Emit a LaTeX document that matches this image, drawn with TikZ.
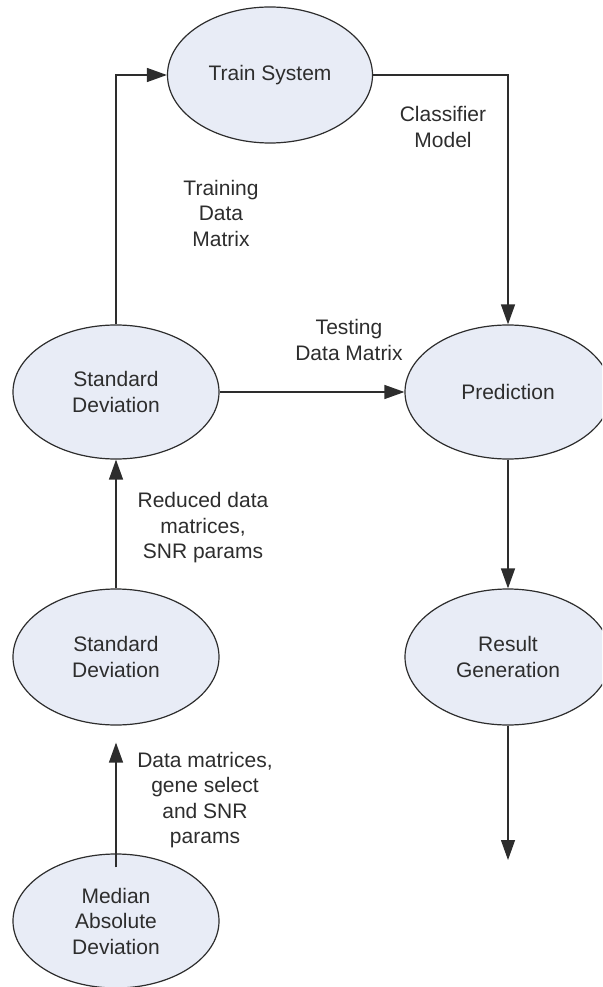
\documentclass[tikz,border=0pt]{standalone}
\usepackage{fontspec}
\setmainfont{Liberation Sans}
\usetikzlibrary{arrows.meta,shapes.geometric}
\definecolor{procfill}{RGB}{232,236,246}
\definecolor{ink}{RGB}{45,45,45}
\begin{document}
\begin{tikzpicture}[x=1pt,y=-1pt,
  proc/.style={ellipse, draw=ink, line width=1.2pt, fill=procfill,
    minimum width=206pt, minimum height=134pt, inner sep=0pt, align=center,
    font=\fontsize{21}{25.5}\selectfont, text=ink},
  lbl/.style={align=center, inner sep=0pt, font=\fontsize{21}{25.5}\selectfont, text=ink},
  flow/.style={draw=ink, line width=1.3pt, -{Triangle[length=20pt,width=14pt]}}]
\useasboundingbox (0,0) rectangle (602,987);
\clip (0,0) rectangle (602,987);

% processes
\node[proc, minimum width=205pt, minimum height=136pt] (train) at (270,75) {Train System};
\node[proc] (sd1) at (116,392) {Standard\\Deviation};
\node[proc] (pred) at (508,392) {Prediction};
\node[proc, minimum height=136pt] (sd2) at (116,657) {Standard\\Deviation};
\node[proc, minimum height=136pt] (res) at (508,657) {Result\\Generation};
\node[proc] (mad) at (116,921) {Median\\Absolute\\Deviation};

% data flows
\draw[flow] (sd1.north) |- (train.west);
\draw[flow] (train.east) -| (pred.north);
\draw[flow] (sd1.east) -- (pred.west);
\draw[flow] (sd2.north) -- (sd1.south);
\draw[flow] ([yshift=-14pt]mad.north) -- ([yshift=-17pt]sd2.south);
\draw[flow] (pred.south) -- (res.north);
\coordinate (output) at (508,860);
\draw[flow] (res.south) -- (output);

% flow labels
\node[lbl] (lclass) at (443,127) {Classifier\\Model};
\node[lbl] (ltrain) at (221,213) {Training\\Data\\Matrix};
\node[lbl] (ltest) at (349,340) {Testing\\Data Matrix};
\node[lbl] (lreduced) at (203,528) {Reduced data\\matrices,\\SNR params};
\node[lbl] (lraw) at (205,800) {Data matrices,\\gene select\\and SNR\\params};
\end{tikzpicture}
\end{document}
